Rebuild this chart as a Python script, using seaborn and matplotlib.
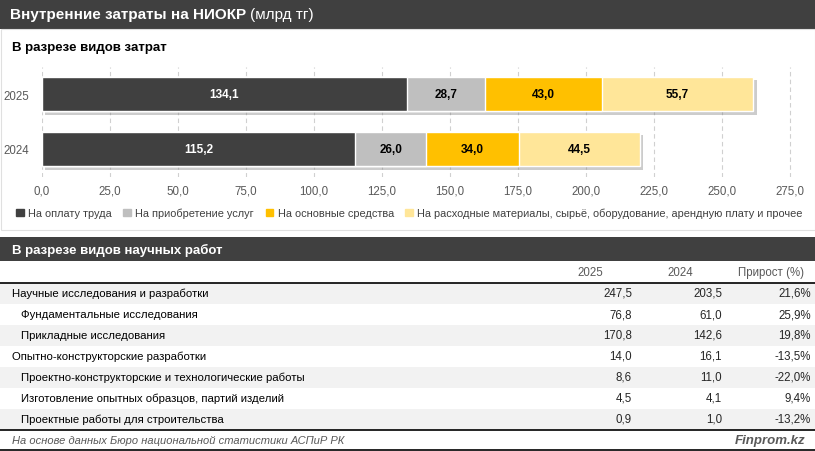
import matplotlib
matplotlib.use("Agg")
import matplotlib.pyplot as plt
import matplotlib.patheffects as pe
from matplotlib.patches import Rectangle, Patch
from matplotlib.lines import Line2D
import pandas as pd
import seaborn as sns

# --- data -------------------------------------------------------------
years = ["2025", "2024"]
cost_types = ["На оплату труда", "На приобретение услуг", "На основные средства",
              "На расходные материалы, сырьё, оборудование, арендную плату и прочее"]
labor = [134.1, 115.2]
services = [28.7, 26.0]
fixed_assets = [43.0, 34.0]
materials = [55.7, 44.5]

work_types = ["Научные исследования и разработки", "Фундаментальные исследования",
              "Прикладные исследования", "Опытно-конструкторские разработки",
              "Проектно-конструкторские и технологические работы",
              "Изготовление опытных образцов, партий изделий",
              "Проектные работы для строительства"]
is_sub = [False, True, True, False, True, True, True]
work_2025 = [247.5, 76.8, 170.8, 14.0, 8.6, 4.5, 0.9]
work_2024 = [203.5, 61.0, 142.6, 16.1, 11.0, 4.1, 1.0]
growth = [21.6, 25.9, 19.8, -13.5, -22.0, 9.4, -13.2]

colors = ["#404040", "#BFBFBF", "#FFC000", "#FFE699"]
DARK = "#404040"

W, H = 815, 452


def fx(px):
    return px / W


def fy(px):
    return 1 - px / H


def fmt(v):
    return f"{v:.1f}".replace(".", ",")


def rect(fig, x0, y0, x1, y1, **kw):
    fig.add_artist(Rectangle((fx(x0), fy(y1)), (x1 - x0) / W, (y1 - y0) / H,
                             transform=fig.transFigure, **kw))


def hline(fig, y, color="black", lw=1.2):
    fig.add_artist(Line2D([0, 1], [fy(y), fy(y)], transform=fig.transFigure,
                          color=color, lw=lw))


sns.set_theme(style="white")
plt.rcParams["font.family"] = ["Liberation Sans", "DejaVu Sans"]

fig = plt.figure(figsize=(W / 100, H / 100), dpi=100)

# --- header bars -------------------------------------------------------
rect(fig, 0, 0, W, 30, color=DARK, lw=0)
title = fig.text(fx(10), fy(15), "Внутренние затраты на НИОКР", color="white",
                 fontsize=11, fontweight="bold", va="center")
renderer = fig.canvas.get_renderer()
bb = title.get_window_extent(renderer)
fig.text(fx(bb.x1 + 4), fy(15), "(млрд тг)", color="white", fontsize=11, va="center")

rect(fig, 0.5, 30, W - 0.5, 231, facecolor="none", edgecolor="#E0E0E0", lw=0.8)
fig.text(fx(12), fy(48), "В разрезе видов затрат", color="black",
         fontsize=9.5, fontweight="bold", va="center")

# --- stacked bars ------------------------------------------------------
ax = fig.add_axes([fx(42), fy(177.5), (803.6 - 42) / W, 110 / H])

parts = [labor, services, fixed_assets, materials]
cum = []
run = [0.0, 0.0]
for p in parts:
    run = [r + v for r, v in zip(run, p)]
    cum.append(run)

# draw cumulative totals from largest to smallest so they stack visually
for i in range(len(parts) - 1, -1, -1):
    df = pd.DataFrame({"year": years, "value": cum[i]})
    sns.barplot(data=df, x="value", y="year", orient="h", color=colors[i],
                width=0.62, saturation=1, ax=ax, zorder=3)

# shadow on the full bars
for patch in ax.patches[:2]:
    patch.set_path_effects([pe.SimplePatchShadow(offset=(2.5, -2.5), shadow_rgbFace="#808080",
                                                 alpha=0.4), pe.Normal()])

for i, p in enumerate(parts):
    for j, v in enumerate(p):
        centre = cum[i][j] - v / 2
        ax.text(centre, j, fmt(v), ha="center", va="center", fontsize=8.5,
                fontweight="bold", color="white" if i == 0 else "black", zorder=5)

ax.set_xlim(0, 280)
ax.set_ylim(1.5, -0.5)
ax.set_xticks(range(0, 276, 25))
ax.set_xticklabels([fmt(t) for t in range(0, 276, 25)])
ax.grid(axis="x", color="#D0D0D0", linestyle=(0, (4, 3)), lw=0.8, zorder=0)
ax.set_axisbelow(True)
ax.set_xlabel("")
ax.set_ylabel("")
sns.despine(ax=ax, left=True, bottom=True)
ax.tick_params(axis="both", length=0, labelsize=8.3, colors="#595959")
ax.tick_params(axis="y", pad=9)
ax.tick_params(axis="x", pad=6)

handles = [Patch(color=c, label=l) for c, l in zip(colors, cost_types)]
fig.legend(handles=handles, loc="center left", bbox_to_anchor=(fx(16), fy(214)),
           ncol=4, frameon=False, fontsize=7.9, handlelength=0.7, handleheight=0.7,
           handletextpad=0.4, columnspacing=1.05, labelcolor="#404040",
           borderaxespad=0, borderpad=0)

# --- table ---------------------------------------------------------------
rect(fig, 0, 238, W, 262, color=DARK, lw=0)
fig.text(fx(12), fy(250), "В разрезе видов научных работ", color="white",
         fontsize=9.5, fontweight="bold", va="center")

fig.text(fx(590), fy(273), "2025", ha="center", va="center", fontsize=8.3, color="#595959")
fig.text(fx(680), fy(273), "2024", ha="center", va="center", fontsize=8.3, color="#595959")
fig.text(fx(771), fy(273), "Прирост (%)", ha="center", va="center", fontsize=8.3,
         color="#595959")

for k, name in enumerate(work_types):
    yc = 294 + 21 * k
    if k % 2 == 0:
        rect(fig, 0, yc - 10.5, W, yc + 10.5, color="#F2F2F2", lw=0)
    fig.text(fx(21 if is_sub[k] else 12), fy(yc), name, va="center", fontsize=8.2,
             color="black")
    fig.text(fx(632), fy(yc), fmt(work_2025[k]), ha="right", va="center", fontsize=8.3)
    fig.text(fx(722), fy(yc), fmt(work_2024[k]), ha="right", va="center", fontsize=8.3)
    fig.text(fx(811), fy(yc), fmt(growth[k]) + "%", ha="right", va="center", fontsize=8.3)

hline(fig, 284)
hline(fig, 430.5)
hline(fig, 451)
fig.text(fx(12), fy(441), "На основе данных Бюро национальной статистики АСПиР РК",
         va="center", fontsize=8, style="italic", color="#595959")
fig.text(fx(805), fy(441), "Finprom.kz", ha="right", va="center", fontsize=9.5,
         style="italic", fontweight="bold", color="#595959")

fig.savefig("out.png", dpi=100)
